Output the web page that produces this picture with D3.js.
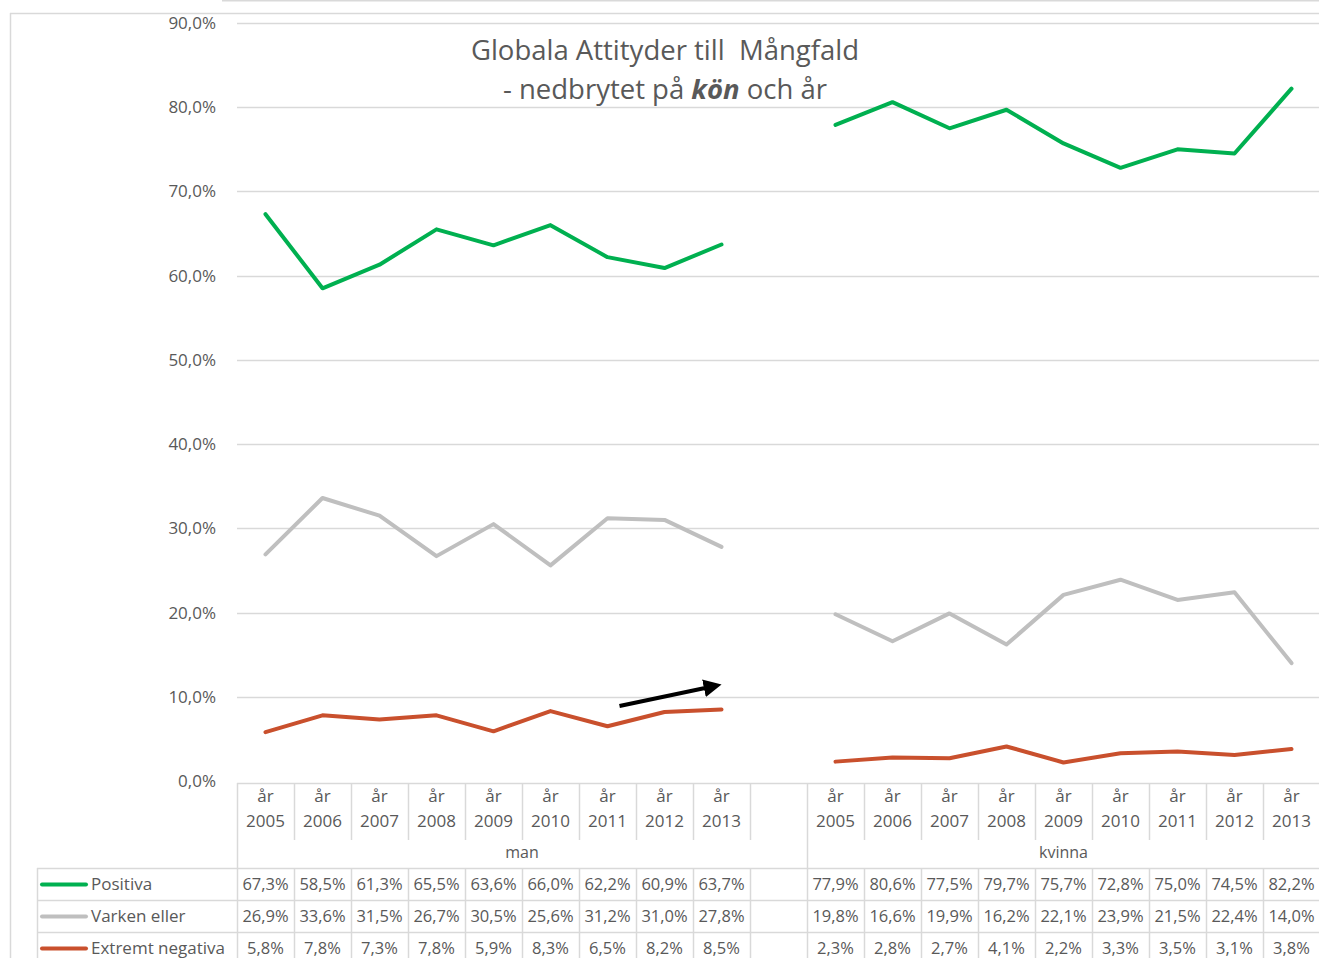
<!DOCTYPE html>
<html>
<head>
<meta charset="utf-8">
<script src="https://cdn.jsdelivr.net/npm/d3@7"></script>
<style>
  body { margin: 0; background: #fff; }
  text { font-family: "Open Sans", sans-serif; fill: #595959; }
</style>
</head>
<body>
<script>
// chart data
var groups = ["man", "kvinna"];
var years = ["2005", "2006", "2007", "2008", "2009", "2010", "2011", "2012", "2013"];
var yTicks = [0, 0.1, 0.2, 0.3, 0.4, 0.5, 0.6, 0.7, 0.8, 0.9];

var seriesNames = ["Positiva", "Varken eller", "Extremt negativa"];
var seriesColors = ["#00b050", "#bfbfbf", "#c9502d"];

var manPositiva = [67.3, 58.5, 61.3, 65.5, 63.6, 66.0, 62.2, 60.9, 63.7];
var manVarken   = [26.9, 33.6, 31.5, 26.7, 30.5, 25.6, 31.2, 31.0, 27.8];
var manNegativa = [5.8, 7.8, 7.3, 7.8, 5.9, 8.3, 6.5, 8.2, 8.5];

var kvPositiva = [77.9, 80.6, 77.5, 79.7, 75.7, 72.8, 75.0, 74.5, 82.2];
var kvVarken   = [19.8, 16.6, 19.9, 16.2, 22.1, 23.9, 21.5, 22.4, 14.0];
var kvNegativa = [2.3, 2.8, 2.7, 4.1, 2.2, 3.3, 3.5, 3.1, 3.8];

var W = 1319, H = 958;
var svg = d3.select("body").append("svg")
    .attr("width", W).attr("height", H);

// 19 slots: 9 man, one empty, 9 kvinna
var nSlots = years.length * 2 + 1;
var x = d3.scaleBand().domain(d3.range(nSlots)).range([237, 1320]);
var y = d3.scaleLinear().domain([0, 0.9]).range([781, 23]);
var bw = x.bandwidth();

var grid = "#d9d9d9";

// outer frame
svg.append("line").attr("x1", 10).attr("x2", W).attr("y1", 13.5).attr("y2", 13.5)
    .attr("stroke", grid).attr("stroke-width", 1.5);
svg.append("line").attr("x1", 10.5).attr("x2", 10.5).attr("y1", 13).attr("y2", H)
    .attr("stroke", grid).attr("stroke-width", 1.5);
svg.append("line").attr("x1", 222).attr("x2", W).attr("y1", 0.5).attr("y2", 0.5)
    .attr("stroke", grid).attr("stroke-width", 2);

// gridlines + y labels
svg.selectAll(".grid").data(yTicks.slice(1)).enter().append("line")
    .attr("x1", 237).attr("x2", W)
    .attr("y1", d => Math.round(y(d)) + 0.5).attr("y2", d => Math.round(y(d)) + 0.5)
    .attr("stroke", grid).attr("stroke-width", 1.3);

svg.selectAll(".ylab").data(yTicks).enter().append("text")
    .attr("x", 216).attr("y", d => y(d)).attr("dy", "0.35em")
    .attr("text-anchor", "end").style("font-size", "17px")
    .text(d => d3.format(".1f")(d * 100).replace(".", ",") + "%");

// title
svg.append("text").attr("text-anchor", "middle").style("font-size", "27.5px")
    .style("white-space", "pre")
    .attr("x", 665).attr("y", 60).text("Globala Attityder till  Mångfald");
var t2 = svg.append("text").attr("text-anchor", "middle").style("font-size", "27.5px")
    .style("white-space", "pre")
    .attr("x", 665).attr("y", 99);
t2.append("tspan").text("- nedbrytet på ");
t2.append("tspan").style("font-weight", "bold").style("font-style", "italic").text("kön");
t2.append("tspan").text(" och år");

// series lines
var allSeries = [
  [manPositiva, kvPositiva],
  [manVarken, kvVarken],
  [manNegativa, kvNegativa]
];

var line = d3.line()
    .x(d => x(d.slot) + bw / 2)
    .y(d => y(d.v / 100));

allSeries.forEach(function (pair, s) {
  pair.forEach(function (vals, g) {
    var pts = vals.map((v, i) => ({ slot: g * (years.length + 1) + i, v: v }));
    svg.append("path")
        .attr("d", line(pts))
        .attr("fill", "none")
        .attr("stroke", seriesColors[s])
        .attr("stroke-width", 4)
        .attr("stroke-linejoin", "round")
        .attr("stroke-linecap", "round");
  });
});

// annotation arrow
svg.append("defs").append("marker")
    .attr("id", "arrow").attr("viewBox", "0 0 10 10")
    .attr("refX", 2).attr("refY", 5)
    .attr("markerWidth", 4.5).attr("markerHeight", 4.5)
    .attr("orient", "auto")
    .append("path").attr("d", "M0,0 L10,5 L0,10 Z").attr("fill", "#000");

svg.append("line")
    .attr("x1", x(6) + bw / 2 + 12).attr("y1", y(0.089))
    .attr("x2", x(8) + bw / 2 - 14).attr("y2", y(0.111))
    .attr("stroke", "#000").attr("stroke-width", 4)
    .attr("marker-end", "url(#arrow)");

// ---- data table ----
var tTop = 783, yearBottom = 840, groupBottom = 868, rowH = 32;
var tbl = svg.append("g");

function hline(x1, x2, yy) {
  tbl.append("line").attr("x1", x1).attr("x2", x2).attr("y1", yy + 0.5).attr("y2", yy + 0.5)
      .attr("stroke", grid).attr("stroke-width", 1.5);
}
function vline(xx, y1, y2) {
  tbl.append("line").attr("x1", xx + 0.5).attr("x2", xx + 0.5).attr("y1", y1).attr("y2", y2)
      .attr("stroke", grid).attr("stroke-width", 1.5);
}

hline(237, W, tTop);
for (var r = 0; r < 3; r++) hline(37, W, groupBottom + r * rowH);

// vertical separators
d3.range(nSlots + 1).forEach(function (i) {
  var xx = Math.round(237 + i * bw);
  if (i === 0 || i === years.length + 1) vline(xx, tTop, H);
  else {
    vline(xx, tTop, yearBottom);
    vline(xx, groupBottom, H);
  }
});
vline(37, groupBottom, H);

// year headers
groups.forEach(function (g, gi) {
  years.forEach(function (yr, i) {
    var cx = x(gi * (years.length + 1) + i) + bw / 2;
    tbl.append("text").attr("x", cx).attr("y", 796).attr("dy", "0.35em")
        .attr("text-anchor", "middle").style("font-size", "17px").text("år");
    tbl.append("text").attr("x", cx).attr("y", 821).attr("dy", "0.35em")
        .attr("text-anchor", "middle").style("font-size", "17px").text(yr);
  });
});

// group labels
tbl.append("text").attr("x", (x(0) + x(years.length) + bw) / 2).attr("y", 852).attr("dy", "0.35em")
    .attr("text-anchor", "middle").style("font-size", "16px").text(groups[0]);
tbl.append("text").attr("x", (x(years.length + 1) + 1320) / 2).attr("y", 852).attr("dy", "0.35em")
    .attr("text-anchor", "middle").style("font-size", "16px").text(groups[1]);

// rows with legend keys
allSeries.forEach(function (pair, s) {
  var cy = groupBottom + s * rowH + rowH / 2 + 0.5;
  tbl.append("line").attr("x1", 42).attr("x2", 86).attr("y1", cy).attr("y2", cy)
      .attr("stroke", seriesColors[s]).attr("stroke-width", 4).attr("stroke-linecap", "round");
  tbl.append("text").attr("x", 91).attr("y", cy).attr("dy", "0.35em")
      .style("font-size", "17px").text(seriesNames[s]);
  pair.forEach(function (vals, g) {
    vals.forEach(function (v, i) {
      tbl.append("text")
          .attr("x", x(g * (years.length + 1) + i) + bw / 2)
          .attr("y", cy).attr("dy", "0.35em")
          .attr("text-anchor", "middle").style("font-size", "16.5px")
          .text(d3.format(".1f")(v).replace(".", ",") + "%");
    });
  });
});
</script>
</body>
</html>
